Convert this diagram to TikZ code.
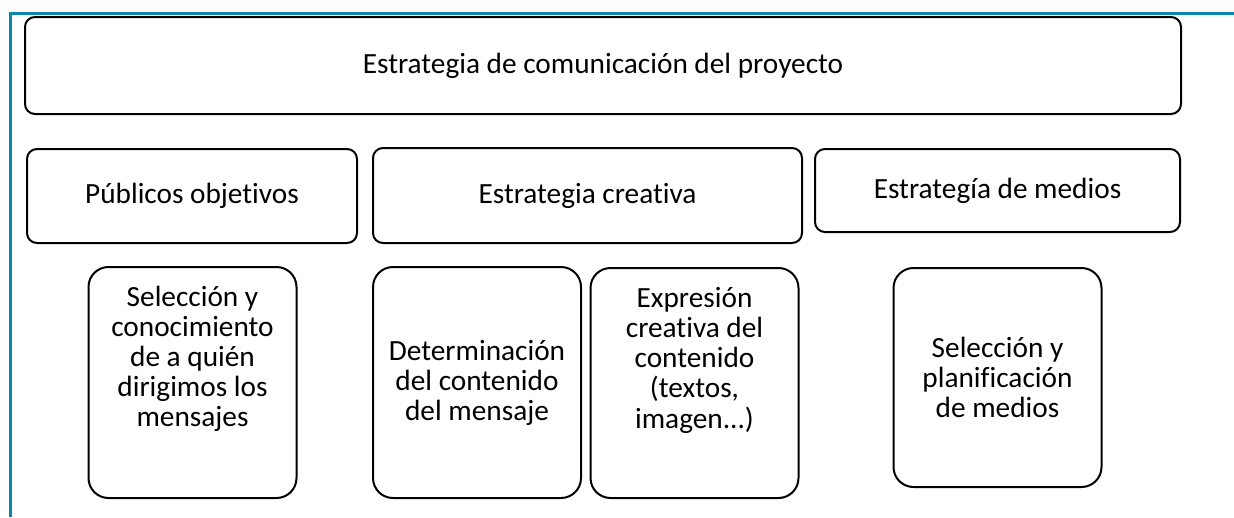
\documentclass[tikz,border=0pt]{standalone}
\usepackage{fontspec}
\setmainfont{Carlito}[Ligatures=NoCommon]
\usepackage{tikz}
\usetikzlibrary{positioning}
\definecolor{FrameTeal}{RGB}{12,134,172}
\newcommand{\liftlines}[2]{\raisebox{#1}[\height][\depth]{\begin{tabular}{@{}c@{}}#2\end{tabular}}}
\tikzset{
  topbox/.style={draw=black,line width=2pt,rounded corners=10pt,minimum width=1156pt,minimum height=97pt,inner sep=0pt,align=center},
  headbox/.style={draw=black,line width=2pt,rounded corners=10pt,inner sep=0pt,align=center},
  itembox/.style={draw=black,line width=2pt,rounded corners=20pt,minimum width=208pt,inner sep=0pt,align=center},
  frameline/.style={draw=FrameTeal,line width=3pt}
}

\begin{document}
\begin{tikzpicture}[x=1pt,y=-1pt,font=\fontsize{29.3}{30}\selectfont]
\useasboundingbox (0,0) rectangle (1234,517);
\draw[frameline] (1234,13.5) -- (10.5,13.5) -- (10.5,517);

\node[topbox] (proj) at (603,65.5) {Estrategia de comunicación del proyecto};

\node[headbox,minimum width=330pt,minimum height=94pt] (pub) at (192,196) {Públicos objetivos};
\node[headbox,minimum width=429pt,minimum height=95pt] (crea) at (587.5,195.5) {Estrategia creativa};
\node[headbox,minimum width=365pt,minimum height=83pt] (med) at (997.5,190.5) {Estrategía de medios};

\node[itembox,minimum height=231pt] (sel) at (192.5,382.5) {\liftlines{22pt}{Selección y\\conocimiento\\de a quién\\dirigimos los\\mensajes}};
\node[itembox,minimum height=231pt] (det) at (477,382.5) {Determinación\\del contenido\\del mensaje};
\node[itembox,minimum height=230pt] (expr) at (694.5,383) {\liftlines{21pt}{Expresión\\creativa del\\contenido\\(textos,\\imagen...)}};
\node[itembox,minimum height=219pt] (plan) at (997.5,377.5) {Selección y\\planificación\\de medios};
\end{tikzpicture}
\end{document}
